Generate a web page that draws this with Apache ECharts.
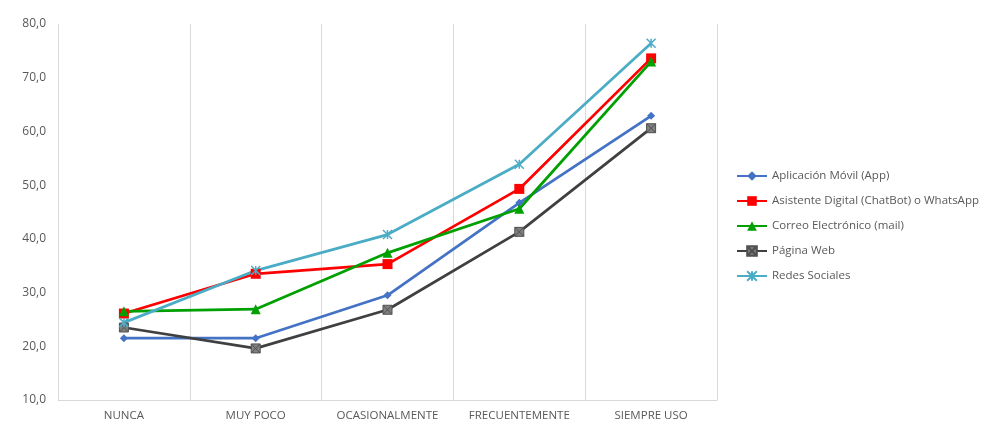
<!DOCTYPE html>
<html lang="es">
<head>
    <meta charset="UTF-8">
    <title>Uso de canales</title>
    <script src="https://cdn.jsdelivr.net/npm/echarts@6/dist/echarts.min.js"></script>
    <style type="text/css">
    html, body { margin:0; padding:0; background:#fff; }
    #chart { width:1000px; height:447px; }
    </style>
</head>
<body>
<div id="chart"></div>
<script type="text/javascript">
    // categorias del eje x
    var categorias = ['NUNCA', 'MUY POCO', 'OCASIONALMENTE', 'FRECUENTEMENTE', 'SIEMPRE USO'];

    // valores
    var app = [21.5, 21.5, 29.5, 46.7, 62.9];
    var asistente = [26.1, 33.5, 35.3, 49.3, 73.6];
    var correo = [26.5, 26.9, 37.4, 45.6, 73.0];
    var web = [23.5, 19.6, 26.8, 41.3, 60.6];
    var redes = [24.4, 34.1, 40.8, 53.9, 76.4];

    var nombres = ['Aplicación Móvil (App)', 'Asistente Digital (ChatBot) o WhatsApp',
        'Correo Electrónico (mail)', 'Página Web', 'Redes Sociales'];

    var fuente = '"Open Sans", "Noto Sans", sans-serif';
    var myChart = echarts.init(document.getElementById('chart'));

    option = {
      animation: false,
      grid: { left: 58, right: 283, top: 24, bottom: 47 },
      legend: {
        orient: 'vertical',
        left: 731,
        top: 165,
        itemWidth: 30,
        itemHeight: 12,
        itemGap: 13,
        textStyle: { color: '#595959', fontSize: 11.5, fontFamily: fuente },
        data: nombres
      },
      xAxis: {
        type: 'category',
        data: categorias,
        boundaryGap: true,
        axisLine: { show: true, lineStyle: { color: '#d9d9d9', width: 1 } },
        axisTick: { show: false },
        splitLine: { show: true, lineStyle: { color: '#d9d9d9', width: 1 } },
        axisLabel: { color: '#595959', fontSize: 11.5, fontFamily: fuente, margin: 10, interval: 0 }
      },
      yAxis: {
        type: 'value',
        min: 10,
        max: 80,
        interval: 10,
        axisLine: { show: false },
        axisTick: { show: false },
        splitLine: { show: false },
        axisLabel: {
          color: '#595959', fontSize: 12, fontFamily: fuente, margin: 12,
          formatter: function (v) { return v.toFixed(1).replace('.', ','); }
        }
      },
      series: [
        {
          name: nombres[0], type: 'line', data: app,
          symbol: 'diamond', symbolSize: 8,
          lineStyle: { color: '#4472c4', width: 2.75 },
          itemStyle: { color: '#4472c4' }
        },
        {
          name: nombres[1], type: 'line', data: asistente,
          symbol: 'rect', symbolSize: 10,
          lineStyle: { color: '#ff0000', width: 2.75 },
          itemStyle: { color: '#ff0000' }
        },
        {
          name: nombres[2], type: 'line', data: correo,
          symbol: 'triangle', symbolSize: 10,
          lineStyle: { color: '#00a000', width: 2.75 },
          itemStyle: { color: '#00a000' }
        },
        {
          name: nombres[3], type: 'line', data: web,
          symbol: 'path://M0,0 L10,0 L10,10 L0,10 Z M0,0 L10,10 M10,0 L0,10', symbolSize: 9,
          lineStyle: { color: '#404040', width: 2.75 },
          itemStyle: { color: '#808080', borderColor: '#505050', borderWidth: 1 }
        },
        {
          name: nombres[4], type: 'line', data: redes,
          symbol: 'path://M0,0 L10,10 M10,0 L0,10 M5,0 L5,10', symbolSize: 9,
          lineStyle: { color: '#4bacc6', width: 2.75 },
          itemStyle: { color: '#4bacc6', borderColor: '#4bacc6', borderWidth: 1.5 }
        }
      ]
    };
    myChart.setOption(option);
</script>
</body>
</html>
